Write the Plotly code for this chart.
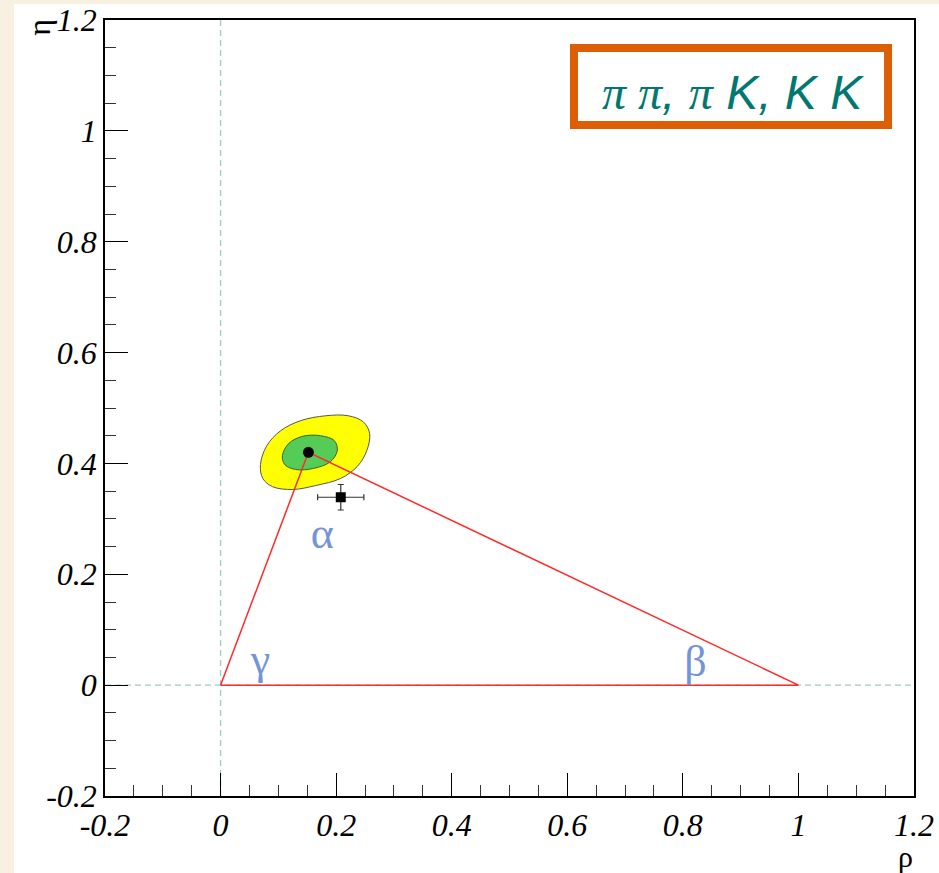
import plotly.graph_objects as go

# ---- data ----
axis_range = [-0.2, 1.2]
tick_vals = [-0.2, 0.0, 0.2, 0.4, 0.6, 0.8, 1.0, 1.2]
tick_text = ["-0.2", "0", "0.2", "0.4", "0.6", "0.8", "1", "1.2"]

# unitarity triangle vertices (rho, eta)
tri_rho = [0.0, 1.0, 0.152, 0.0]
tri_eta = [0.0, 0.0, 0.420, 0.0]

# fit result (apex)
apex_rho = [0.152]
apex_eta = [0.420]

# outer (yellow) confidence contour
outer_rho = [0.069, 0.080, 0.104, 0.138, 0.182, 0.221, 0.247, 0.258, 0.253,
             0.237, 0.208, 0.164, 0.125, 0.090, 0.073, 0.069]
outer_eta = [0.398, 0.432, 0.459, 0.477, 0.486, 0.486, 0.475, 0.454, 0.423,
             0.395, 0.373, 0.360, 0.353, 0.358, 0.373, 0.398]

# inner (green) confidence contour
inner_rho = [0.107, 0.118, 0.142, 0.173, 0.197, 0.202, 0.190, 0.161, 0.130,
             0.111, 0.107]
inner_eta = [0.414, 0.436, 0.449, 0.450, 0.441, 0.423, 0.403, 0.391, 0.389,
             0.398, 0.414]

# independent measurement with errors
meas_rho = [0.208]
meas_eta = [0.339]
meas_rho_err = [0.040]
meas_eta_err = [0.023]

# angle labels
angle_labels = ["α", "β", "γ"]
angle_rho = [0.176, 0.822, 0.069]
angle_eta = [0.268, 0.036, 0.040]

legend_text = ('<span style="font-family:Liberation Serif">π π</span>, '
               '<span style="font-family:Liberation Serif">π</span> K, K K')

# ---- figure ----
fig = go.Figure()

dash_col = "#9fcdbf"
fig.add_trace(go.Scatter(x=[0, 0], y=axis_range, mode="lines",
                         line=dict(color=dash_col, width=1.3, dash="6px,4px"),
                         hoverinfo="skip", showlegend=False))
fig.add_trace(go.Scatter(x=axis_range, y=[0, 0], mode="lines",
                         line=dict(color=dash_col, width=1.3, dash="6px,4px"),
                         hoverinfo="skip", showlegend=False))

fig.add_trace(go.Scatter(x=outer_rho, y=outer_eta, mode="lines", fill="toself",
                         fillcolor="#ffff00", line=dict(color="#555555", width=1, shape="spline"),
                         showlegend=False))
fig.add_trace(go.Scatter(x=inner_rho, y=inner_eta, mode="lines", fill="toself",
                         fillcolor="#55cc55", line=dict(color="#336633", width=1, shape="spline"),
                         showlegend=False))

fig.add_trace(go.Scatter(x=tri_rho, y=tri_eta, mode="lines",
                         line=dict(color="#ff2a2a", width=1.5), showlegend=False))

fig.add_trace(go.Scatter(x=apex_rho, y=apex_eta, mode="markers",
                         marker=dict(color="black", size=11), showlegend=False))

fig.add_trace(go.Scatter(x=meas_rho, y=meas_eta, mode="markers",
                         marker=dict(color="black", size=10, symbol="square"),
                         error_x=dict(type="data", array=meas_rho_err, color="#333333",
                                      thickness=1.2, width=3),
                         error_y=dict(type="data", array=meas_eta_err, color="#333333",
                                      thickness=1.2, width=3),
                         showlegend=False))

fig.add_trace(go.Scatter(x=angle_rho, y=angle_eta, mode="text", text=angle_labels,
                         textfont=dict(family="Liberation Serif", size=44, color="#7494d8"),
                         showlegend=False, hoverinfo="skip"))

axis_common = dict(
    range=axis_range, tickvals=tick_vals, ticktext=tick_text,
    ticks="inside", ticklen=23, tickwidth=1, tickcolor="black",
    minor=dict(dtick=0.05, ticks="inside", ticklen=11, tickwidth=1, tickcolor="#333333"),
    showline=True, linecolor="black", linewidth=1.5, mirror=True,
    showgrid=False, zeroline=False, automargin=False, ticklabeloverflow="allow",
    tickfont=dict(family="Liberation Serif", size=32, color="black", style="italic"),
)

fig.update_layout(
    width=939, height=873,
    margin=dict(l=105, r=25, t=20, b=77, autoexpand=False),
    paper_bgcolor="#f8f0e1", plot_bgcolor="white",
    xaxis=dict(**axis_common),
    yaxis=dict(**axis_common),
    showlegend=False,
    shapes=[
        dict(type="rect", xref="paper", yref="paper", x0=-0.1125, x1=1.1, y0=-0.2, y1=1.0206,
             fillcolor="white", line=dict(width=0), layer="below"),
        dict(type="rect", xref="paper", yref="paper", x0=0.5797, x1=0.9679, y0=0.8647, y1=0.9639,
             fillcolor="white", line=dict(color="#dc5f05", width=8), layer="above"),
    ],
    annotations=[
        dict(xref="paper", yref="paper", x=0.776, y=0.906, text=legend_text, showarrow=False,
             xanchor="center", yanchor="middle",
             font=dict(family="Liberation Sans", size=48, color="#00786f", style="italic")),
        dict(xref="paper", yref="paper", x=-0.082, y=0.991, text="η", showarrow=False,
             xanchor="center", yanchor="middle",
             textangle=-90, font=dict(family="Liberation Serif", size=32, color="black")),
        dict(xref="paper", yref="paper", x=0.989, y=-0.078, text="ρ", showarrow=False,
             xanchor="center", yanchor="middle",
             font=dict(family="Liberation Serif", size=30, color="black")),
    ],
)

fig.write_html("out.html",
               config={"displayModeBar": False},
               post_script="document.body.style.margin='0';"
                           "document.body.style.background='#f8f0e1';")
